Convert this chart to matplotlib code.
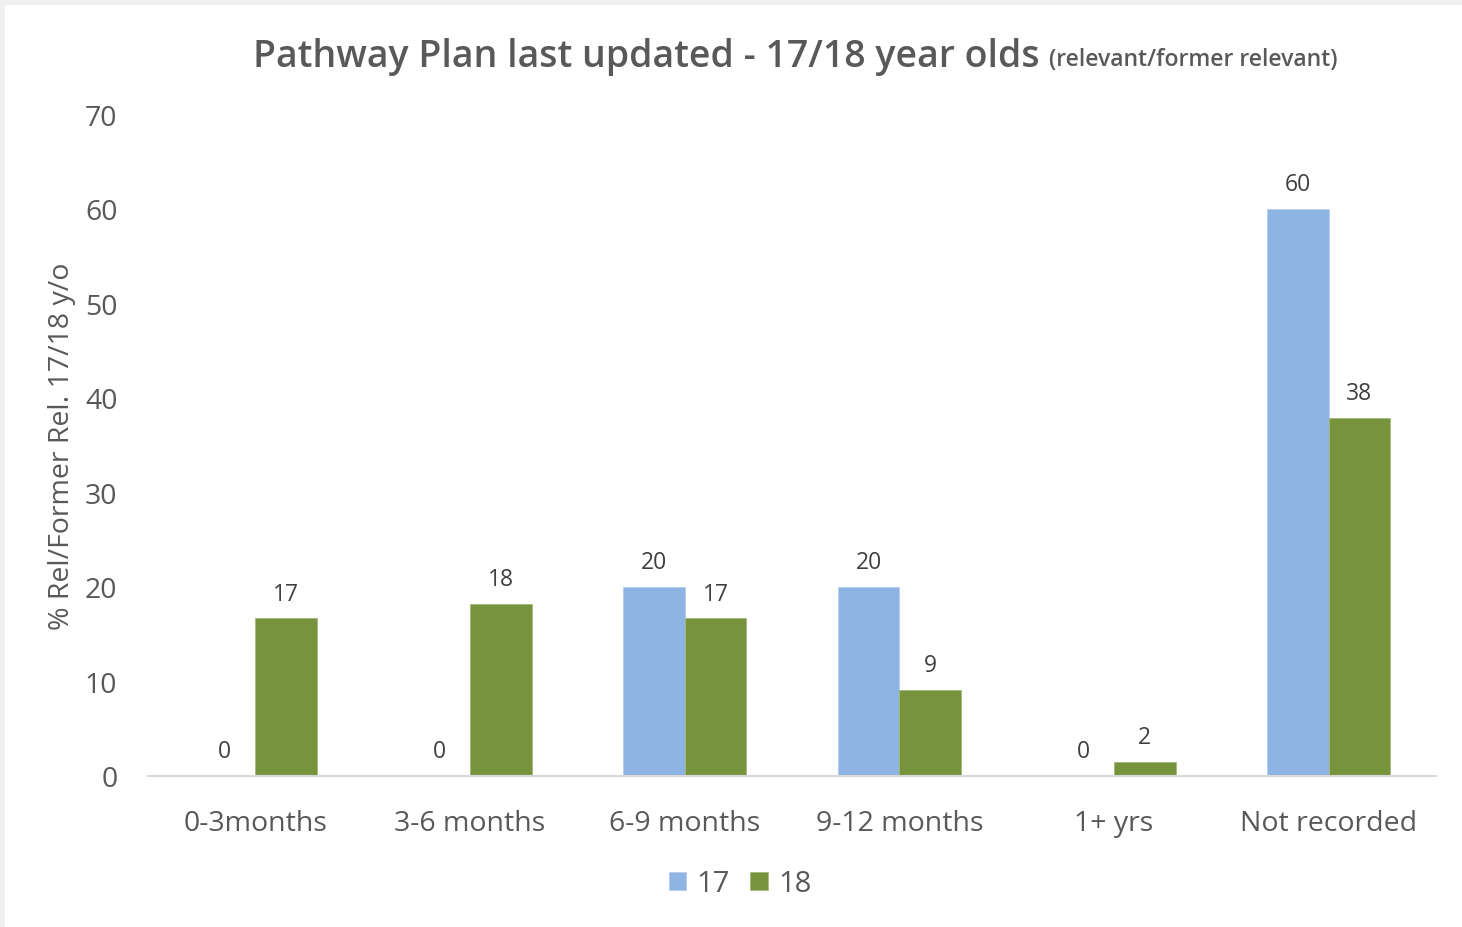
import matplotlib.pyplot as plt
import numpy as np
from matplotlib.patches import Rectangle

plt.rcParams['font.family'] = ['Open Sans', 'DejaVu Sans']

categories = ['0-3months', '3-6 months', '6-9 months', '9-12 months', '1+ yrs', 'Not recorded']
age17 = [0, 0, 20, 20, 0, 60]
age18 = [16.7, 18.2, 16.7, 9.1, 1.5, 37.9]
series_names = ['17', '18']

blue = '#8EB4E3'
green = '#77933C'
grey_text = '#595959'

fig = plt.figure(figsize=(14.62, 9.28), dpi=100)
fig.patch.set_facecolor('#f0f0f0')
# white chart area inside a thin grey margin
fig.patches.append(Rectangle((5 / 1462, 0), 1, 1 - 6 / 928, transform=fig.transFigure,
                             facecolor='white', edgecolor='none', zorder=-5))

ax = fig.add_axes([148 / 1462, 1 - 777 / 928, (1436 - 148) / 1462, (777 - 115) / 928])
ax.set_facecolor('none')

x = np.arange(len(categories))
w = 0.287
b17 = ax.bar(x - w / 2, age17, w, color=blue, edgecolor='#b7cdee', linewidth=0.6, label=series_names[0])
b18 = ax.bar(x + w / 2, age18, w, color=green, edgecolor='#a3b97a', linewidth=0.6, label=series_names[1])

for bars, vals in ((b17, age17), (b18, age18)):
    for rect, v in zip(bars, vals):
        ax.annotate(f'{v:.0f}', (rect.get_x() + rect.get_width() / 2, v),
                    xytext=(0, 9), textcoords='offset points', ha='center', va='bottom',
                    fontsize=16.5, color='#404040')

ax.set_xlim(-0.5, len(categories) - 0.5)
ax.set_ylim(0, 70)
ax.set_yticks(range(0, 71, 10))
ax.set_xticks(x)
ax.set_xticklabels(categories)
ax.tick_params(axis='both', length=0, labelsize=20.5, colors=grey_text)
ax.tick_params(axis='x', pad=24)
ax.tick_params(axis='y', pad=22)
for s in ['top', 'right', 'left']:
    ax.spines[s].set_visible(False)
ax.spines['bottom'].set_color('#d9d9d9')
ax.spines['bottom'].set_linewidth(1.5)

ax.set_ylabel('% Rel/Former Rel. 17/18 y/o', fontsize=20.5, color=grey_text)
ax.yaxis.set_label_coords(-0.056, 0.5)

fig.text(253 / 1462, 1 - 67 / 928, 'Pathway Plan last updated - 17/18 year olds',
         fontsize=27, fontweight='semibold', color=grey_text, ha='left', va='baseline')
fig.text(1049 / 1462, 1 - 66 / 928, '(relevant/former relevant)',
         fontsize=16.6, fontweight='semibold', color=grey_text, ha='left', va='baseline')

leg = fig.legend(handles=[b17, b18], loc='center', bbox_to_anchor=(740 / 1462, 1 - 885 / 928),
                 ncol=2, frameon=False, fontsize=21, handlelength=0.6, handleheight=0.6,
                 handletextpad=0.35, columnspacing=0.7)
for t in leg.get_texts():
    t.set_color(grey_text)

fig.savefig('out.png', dpi=100, facecolor=fig.get_facecolor())
